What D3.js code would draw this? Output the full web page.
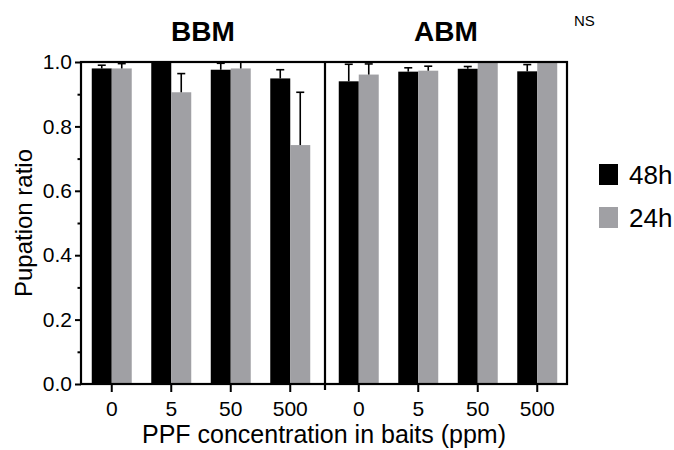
<!DOCTYPE html>
<html>
<head>
<meta charset="utf-8">
<script src="https://cdn.jsdelivr.net/npm/d3@7"></script>
<style>
  body { margin: 0; background: #fff; }
  svg { font-family: "Liberation Sans", Arial, sans-serif; }
</style>
</head>
<body>
<script>
let groups = ['0', '5', '50', '500'];
let panels = ['BBM', 'ABM'];
let series = ['48h', '24h'];

let bbm48 = [0.980, 1.000, 0.976, 0.949];
let bbm48Err = [0.010, 0.000, 0.020, 0.027];
let bbm24 = [0.980, 0.906, 0.980, 0.742];
let bbm24Err = [0.015, 0.058, 0.020, 0.164];

let abm48 = [0.940, 0.970, 0.979, 0.971];
let abm48Err = [0.053, 0.012, 0.007, 0.021];
let abm24 = [0.961, 0.973, 1.000, 1.000];
let abm24Err = [0.033, 0.014, 0.000, 0.000];

let yTicks = [0, 0.2, 0.4, 0.6, 0.8, 1.0];
let yMinor = [0.1, 0.3, 0.5, 0.7, 0.9];

let w = 674;
let h = 450;
let plotLeft = 81, plotRight = 567, plotTop = 62, plotBottom = 384, split = 325;
let colors = { '48h': '#000000', '24h': '#a0a0a4' };

let svg = d3.select('body')
    .append('svg')
    .attr('width', w)
    .attr('height', h);

let yScale = d3.scaleLinear()
    .domain([0, 1])
    .range([plotBottom, plotTop]);

let xScales = {
    BBM: d3.scaleBand().domain(groups).range([82, 320]).paddingInner(0.328).paddingOuter(0.164),
    ABM: d3.scaleBand().domain(groups).range([329, 567]).paddingInner(0.328).paddingOuter(0.164)
};

let values = {
    BBM: { '48h': [bbm48, bbm48Err], '24h': [bbm24, bbm24Err] },
    ABM: { '48h': [abm48, abm48Err], '24h': [abm24, abm24Err] }
};

let rows = [];
panels.forEach(p => {
    series.forEach(s => {
        groups.forEach((g, i) => {
            rows.push({ panel: p, series: s, group: g, value: values[p][s][0][i], err: values[p][s][1][i] });
        });
    });
});

let sub = d3.scaleBand().domain(series).range([0, xScales.BBM.bandwidth()]);

let barX = d => xScales[d.panel](d.group) + sub(d.series);

svg.append('g')
    .selectAll('rect')
    .data(rows)
    .enter()
    .append('rect')
    .attr('x', barX)
    .attr('y', d => yScale(d.value))
    .attr('width', sub.bandwidth())
    .attr('height', d => yScale(0) - yScale(d.value))
    .attr('fill', d => colors[d.series]);

// error bars, upward only
let errs = svg.append('g')
    .attr('stroke', '#000')
    .attr('stroke-width', 1.6)
    .selectAll('g')
    .data(rows.filter(d => d.err > 0))
    .enter()
    .append('g');

errs.append('line')
    .attr('x1', d => barX(d) + sub.bandwidth() / 2)
    .attr('x2', d => barX(d) + sub.bandwidth() / 2)
    .attr('y1', d => yScale(d.value))
    .attr('y2', d => yScale(d.value + d.err));

errs.append('line')
    .attr('x1', d => barX(d) + sub.bandwidth() / 2 - 4)
    .attr('x2', d => barX(d) + sub.bandwidth() / 2 + 4)
    .attr('y1', d => yScale(d.value + d.err))
    .attr('y2', d => yScale(d.value + d.err));

// y axis
let yAxis = svg.append('g')
    .attr('transform', `translate(${plotLeft},0)`)
    .style('font-size', '21px')
    .call(d3.axisLeft(yScale).tickValues(yTicks).tickFormat(d3.format('.1f')).tickSize(6).tickSizeOuter(0));
yAxis.select('.domain').remove();
yAxis.selectAll('line').attr('stroke-width', 2);
yAxis.selectAll('text').attr('fill', '#000');

svg.append('g')
    .attr('transform', `translate(${plotLeft},0)`)
    .call(d3.axisLeft(yScale).tickValues(yMinor).tickFormat('').tickSize(3.5).tickSizeOuter(0))
    .call(g => g.select('.domain').remove())
    .selectAll('line').attr('stroke-width', 2);

// x axes
panels.forEach(p => {
    let ax = svg.append('g')
        .attr('transform', `translate(0,${plotBottom})`)
        .style('font-size', '21px')
        .call(d3.axisBottom(xScales[p]).tickSize(8).tickSizeOuter(0).tickPadding(9));
    ax.select('.domain').remove();
    ax.selectAll('line').attr('stroke-width', 2);
    ax.selectAll('text').attr('fill', '#000');
});

// frame
let frame = svg.append('g')
    .attr('stroke', '#000')
    .attr('stroke-width', 2.2)
    .attr('fill', 'none');
frame.append('rect')
    .attr('x', plotLeft)
    .attr('y', plotTop)
    .attr('width', plotRight - plotLeft)
    .attr('height', plotBottom - plotTop);
frame.append('line')
    .attr('x1', split).attr('x2', split)
    .attr('y1', plotTop).attr('y2', plotBottom + 6);

// panel titles
svg.selectAll('.panel-title')
    .data(panels)
    .enter()
    .append('text')
    .attr('class', 'panel-title')
    .attr('x', d => d === 'BBM' ? (plotLeft + split) / 2 : (split + plotRight) / 2)
    .attr('y', 41)
    .attr('text-anchor', 'middle')
    .style('font-size', '28px')
    .style('font-weight', 'bold')
    .text(d => d);

svg.append('text')
    .attr('x', 574)
    .attr('y', 26)
    .style('font-size', '15px')
    .text('NS');

// axis titles
svg.append('text')
    .attr('transform', `translate(32,${(plotTop + plotBottom) / 2}) rotate(-90)`)
    .attr('text-anchor', 'middle')
    .style('font-size', '24px')
    .text('Pupation ratio');

svg.append('text')
    .attr('x', (plotLeft + plotRight) / 2)
    .attr('y', 443)
    .attr('text-anchor', 'middle')
    .style('font-size', '25px')
    .text('PPF concentration in baits (ppm)');

// legend
let legend = svg.append('g')
    .selectAll('g')
    .data(series)
    .enter()
    .append('g')
    .attr('transform', (d, i) => `translate(599,${164 + i * 43})`);

legend.append('rect')
    .attr('width', 19)
    .attr('height', 21)
    .attr('fill', d => colors[d]);

legend.append('text')
    .attr('x', 30)
    .attr('y', 20)
    .style('font-size', '26px')
    .text(d => d);
</script>
</body>
</html>
